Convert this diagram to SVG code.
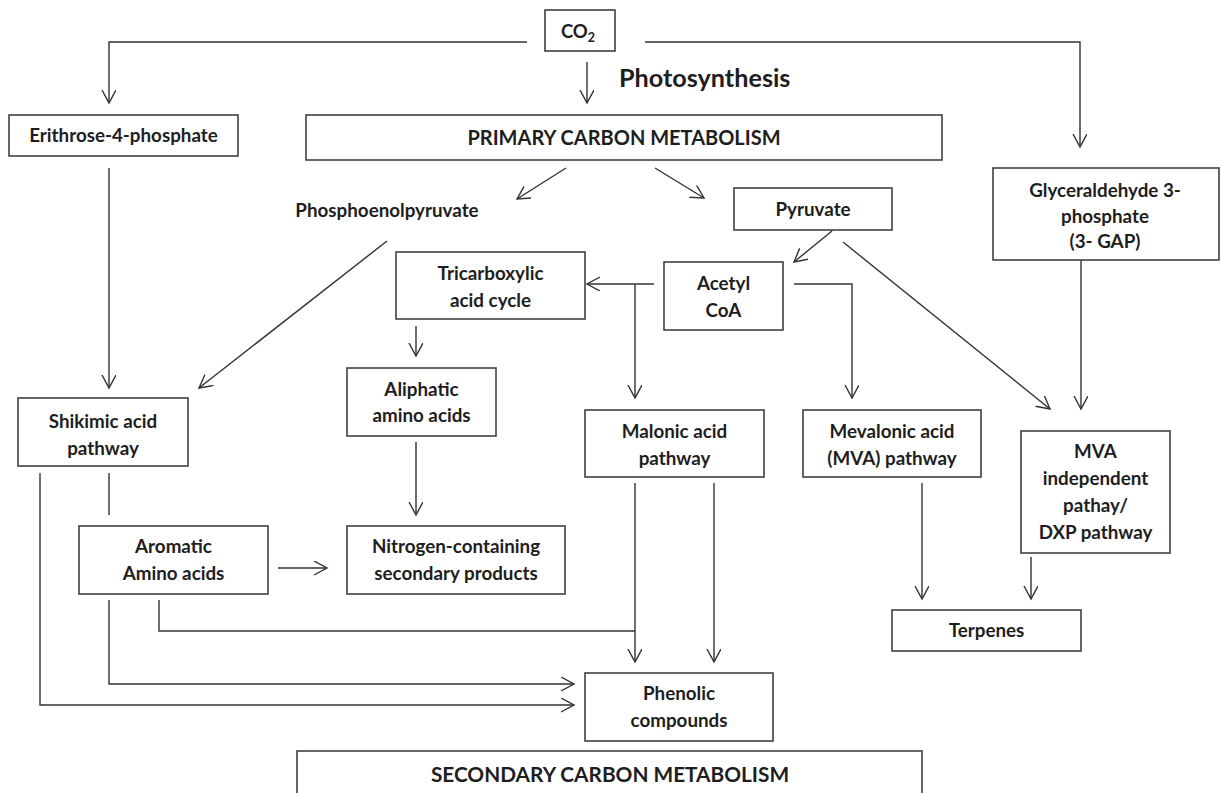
<svg xmlns="http://www.w3.org/2000/svg" width="1221" height="793" viewBox="0 0 1221 793">
<defs>
<marker id="ah" markerUnits="userSpaceOnUse" markerWidth="16" markerHeight="16" refX="13" refY="7" orient="auto">
<path d="M0,0 L13,7 L0,14" fill="none" stroke="#333" stroke-width="1.4"/>
</marker>
<style>
.box{fill:#fff;stroke:#404040;stroke-width:1.6}
.t{font-family:Lato,"Open Sans","Liberation Sans",sans-serif;font-weight:700;font-size:18.8px;fill:#1e1e1e;text-anchor:middle}
.big{font-size:20px}
.ln{fill:none;stroke:#333;stroke-width:1.4}
.ar{fill:none;stroke:#333;stroke-width:1.4;marker-end:url(#ah)}
</style>
</defs>
<rect width="1221" height="793" fill="#fff"/>

<g id="connectors">
<path class="ar" d="M527,42 H109 V103"/>
<path class="ar" d="M587,62 V103"/>
<path class="ar" d="M645,42 H1080 V147"/>
<path class="ar" d="M566,168 L517,199"/>
<path class="ar" d="M655,168 L704,198"/>
<path class="ar" d="M109,168 V388"/>
<path class="ar" d="M387,241 L199,388"/>
<path class="ar" d="M832,231 L794,262"/>
<path class="ar" d="M843,242 L1050,409"/>
<path class="ar" d="M654,284 H587"/>
<path class="ar" d="M635,284 V398"/>
<path class="ar" d="M794,284 H852 V398"/>
<path class="ar" d="M1081,254 V409"/>
<path class="ar" d="M416,326 V356"/>
<path class="ar" d="M416,442 V515"/>
<path class="ar" d="M40,473 V705 H574"/>
<path class="ln" d="M109,473 V515"/>
<path class="ar" d="M278,568 H327"/>
<path class="ar" d="M109,600 V684 H574"/>
<path class="ln" d="M159,600 V631 H635"/>
<path class="ar" d="M635,483 V662"/>
<path class="ar" d="M714,483 V662"/>
<path class="ar" d="M922,483 V599"/>
<path class="ar" d="M1031,557 V599"/>
</g>

<g id="co2">
<rect class="box" x="545" y="10" width="70" height="41"/>
<text class="t" x="578" y="38" style="font-size:18.5px">CO<tspan font-size="12.5" dy="4">2</tspan></text>
</g>

<g id="photosynthesis">
<text class="t" x="619" y="87" style="text-anchor:start;font-size:25.2px">Photosynthesis</text>
</g>

<g id="erithrose">
<rect class="box" x="9" y="115" width="229" height="41"/>
<text class="t" x="123.5" y="142">Erithrose-4-phosphate</text>
</g>

<g id="primary">
<rect class="box" x="306" y="115" width="636" height="45"/>
<text class="t big" x="624" y="145">PRIMARY CARBON METABOLISM</text>
</g>

<g id="glyceraldehyde">
<rect class="box" x="993" y="168" width="226" height="92"/>
<text class="t" x="1105" y="197">Glyceraldehyde 3-</text>
<text class="t" x="1105" y="223">phosphate</text>
<text class="t" x="1105" y="248">(3- GAP)</text>
</g>

<g id="pep">
<text class="t" x="387" y="217">Phosphoenolpyruvate</text>
</g>

<g id="pyruvate">
<rect class="box" x="734" y="188" width="158" height="42"/>
<text class="t" x="813" y="216">Pyruvate</text>
</g>

<g id="tca">
<rect class="box" x="396" y="252" width="189" height="67"/>
<text class="t" x="490.5" y="280">Tricarboxylic</text>
<text class="t" x="490.5" y="307">acid cycle</text>
</g>

<g id="acetyl">
<rect class="box" x="664" y="262" width="119" height="68"/>
<text class="t" x="723.5" y="290">Acetyl</text>
<text class="t" x="723.5" y="317">CoA</text>
</g>

<g id="shikimic">
<rect class="box" x="18" y="398" width="170" height="68"/>
<text class="t" x="103" y="428">Shikimic acid</text>
<text class="t" x="103" y="455">pathway</text>
</g>

<g id="aliphatic">
<rect class="box" x="347" y="368" width="149" height="68"/>
<text class="t" x="421.5" y="396">Aliphatic</text>
<text class="t" x="421.5" y="422">amino acids</text>
</g>

<g id="malonic">
<rect class="box" x="585" y="410" width="179" height="67"/>
<text class="t" x="674.5" y="438">Malonic acid</text>
<text class="t" x="674.5" y="465">pathway</text>
</g>

<g id="mevalonic">
<rect class="box" x="803" y="410" width="178" height="67"/>
<text class="t" x="892" y="438">Mevalonic acid</text>
<text class="t" x="892" y="465">(MVA) pathway</text>
</g>

<g id="mva-independent">
<rect class="box" x="1021" y="431" width="149" height="122"/>
<text class="t" x="1095.5" y="458">MVA</text>
<text class="t" x="1095.5" y="485">independent</text>
<text class="t" x="1095.5" y="512">pathay/</text>
<text class="t" x="1095.5" y="539">DXP pathway</text>
</g>

<g id="aromatic">
<rect class="box" x="79" y="526" width="189" height="68"/>
<text class="t" x="173.5" y="553">Aromatic</text>
<text class="t" x="173.5" y="580">Amino acids</text>
</g>

<g id="nitrogen">
<rect class="box" x="347" y="526" width="218" height="68"/>
<text class="t" x="456" y="553">Nitrogen-containing</text>
<text class="t" x="456" y="580">secondary products</text>
</g>

<g id="terpenes">
<rect class="box" x="892" y="610" width="189" height="41"/>
<text class="t" x="986.5" y="637">Terpenes</text>
</g>

<g id="phenolic">
<rect class="box" x="585" y="673" width="188" height="68"/>
<text class="t" x="679" y="700">Phenolic</text>
<text class="t" x="679" y="727">compounds</text>
</g>

<g id="secondary">
<rect class="box" x="297" y="751" width="625" height="60"/>
<text class="t big" x="610" y="782" style="font-size:20.8px">SECONDARY CARBON METABOLISM</text>
</g>
</svg>
